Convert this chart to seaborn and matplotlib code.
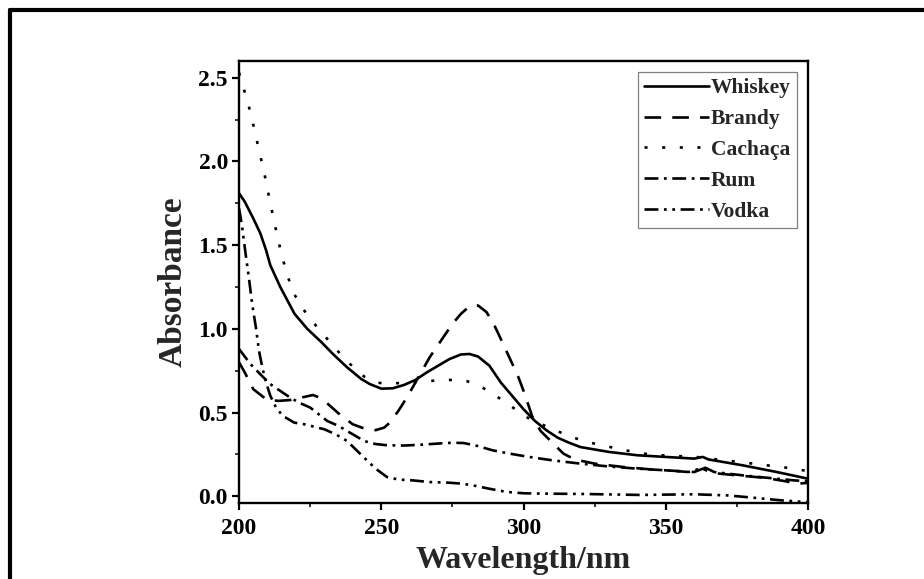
import pandas as pd
import matplotlib.pyplot as plt
import seaborn as sns
from matplotlib.lines import Line2D

# spectra (wavelength in nm, absorbance)
whiskey_wl = [200, 202, 205, 207.5, 209.5, 211, 214.5, 219.5, 224, 229, 233, 238, 243, 246, 250,
              254, 258, 262, 266, 270, 274, 278, 281, 284, 288, 292, 296, 300, 304, 308, 312, 316,
              320, 330, 340, 350, 360, 363, 365, 377, 389, 400]
whiskey_abs = [1.81, 1.76, 1.66, 1.57, 1.47, 1.38, 1.25, 1.09, 1.00, 0.92, 0.85, 0.77, 0.70, 0.67, 0.643,
               0.645, 0.665, 0.695, 0.74, 0.78, 0.82, 0.847, 0.85, 0.835, 0.78, 0.68, 0.60, 0.52, 0.45, 0.395, 0.35, 0.32,
               0.294, 0.265, 0.245, 0.235, 0.225, 0.235, 0.22, 0.185, 0.145, 0.105]

brandy_wl = [200, 202, 205, 208, 210, 214, 218, 222, 226, 229, 232, 236, 240, 244, 248, 251, 253,
             256, 259, 263, 267, 271, 275, 278, 281, 284, 287, 289.5, 292, 295, 298, 300, 303, 306,
             310.5, 314, 318, 325, 335, 345, 355, 360, 363, 366, 375, 385, 392, 396, 400]
brandy_abs = [0.80, 0.74, 0.64, 0.60, 0.575, 0.57, 0.575, 0.59, 0.605, 0.585, 0.54, 0.48, 0.43, 0.405, 0.395, 0.41, 0.44,
              0.51, 0.59, 0.71, 0.83, 0.93, 1.03, 1.09, 1.135, 1.14, 1.10, 1.03, 0.94, 0.83, 0.72, 0.63, 0.48, 0.39,
              0.314, 0.255, 0.22, 0.195, 0.175, 0.16, 0.15, 0.145, 0.165, 0.14, 0.125, 0.11, 0.09, 0.075, 0.08]

cachaca_wl = [200, 201, 203, 205, 207, 209, 211, 213, 215, 217, 219, 222, 226, 230, 234, 239, 244, 248,
              252, 258, 264, 270, 276, 280, 284, 289, 295, 301, 307, 314, 320, 326, 333, 339, 345, 352,
              357, 363, 370, 376, 383, 389, 395, 400]
cachaca_abs = [2.53, 2.47, 2.36, 2.22, 2.07, 1.92, 1.75, 1.59, 1.44, 1.32, 1.22, 1.13, 1.04, 0.96, 0.88, 0.79, 0.715, 0.68,
               0.672, 0.678, 0.685, 0.692, 0.696, 0.688, 0.665, 0.615, 0.545, 0.473, 0.425, 0.374, 0.336, 0.31, 0.285, 0.264, 0.248, 0.242,
               0.238, 0.232, 0.215, 0.205, 0.19, 0.178, 0.165, 0.15]

rum_wl = [200, 204, 208, 211, 214, 217.5, 221, 225, 228, 231, 235, 238, 241, 244, 248, 252, 258, 264,
          270, 275, 279, 284, 289, 295, 302, 310, 320, 330, 340, 350, 358, 362, 364, 367, 377, 386, 395, 400]
rum_abs = [0.88, 0.79, 0.72, 0.67, 0.635, 0.595, 0.56, 0.53, 0.49, 0.45, 0.42, 0.39, 0.36, 0.33, 0.312, 0.305, 0.303, 0.308,
           0.315, 0.32, 0.318, 0.30, 0.275, 0.255, 0.235, 0.215, 0.195, 0.178, 0.165, 0.155, 0.145, 0.165, 0.17, 0.145, 0.125, 0.11, 0.095, 0.09]

vodka_wl = [200, 201, 202.3, 203.5, 204.6, 206, 207, 208.3, 209.5, 211, 213, 215.4, 219.4, 223, 226.5, 230,
            234, 238, 241, 244, 248, 252, 256, 261, 267, 273, 278, 282, 288, 294, 300, 306, 320, 341, 360,
            372, 383, 391, 400]
vodka_abs = [1.72, 1.62, 1.45, 1.30, 1.15, 1.00, 0.87, 0.76, 0.68, 0.60, 0.53, 0.48, 0.44, 0.43, 0.415, 0.40,
             0.37, 0.33, 0.28, 0.23, 0.165, 0.115, 0.10, 0.095, 0.085, 0.082, 0.076, 0.066, 0.045, 0.026, 0.018, 0.016, 0.014, 0.008, 0.012,
             0.005, -0.012, -0.025, -0.035]

names = ['Whiskey', 'Brandy', 'Cachaça', 'Rum', 'Vodka']

frames = []
for name, x, y in zip(names,
                      [whiskey_wl, brandy_wl, cachaca_wl, rum_wl, vodka_wl],
                      [whiskey_abs, brandy_abs, cachaca_abs, rum_abs, vodka_abs]):
    frames.append(pd.DataFrame({'Wavelength': x, 'Absorbance': y, 'Sample': name}))
df = pd.concat(frames, ignore_index=True)

sns.set_style('ticks')
plt.rcParams['font.family'] = ['Liberation Serif', 'DejaVu Serif']
plt.rcParams['font.weight'] = 'bold'
plt.rcParams['axes.labelweight'] = 'bold'
plt.rcParams['lines.scale_dashes'] = False

dash_map = {'Whiskey': '', 'Brandy': (12, 8), 'Cachaça': (2.2, 10.5),
            'Rum': (10, 4, 2, 4), 'Vodka': (10, 4, 2, 4, 2, 4)}

fig = plt.figure(figsize=(9.24, 5.79), dpi=100)
ax = fig.add_axes([0.2587, 0.1313, 0.6158, 0.7633])

sns.lineplot(data=df, x='Wavelength', y='Absorbance', hue='Sample', style='Sample',
             hue_order=names, style_order=names, palette=['black'] * 5, dashes=dash_map,
             estimator=None, sort=False, linewidth=1.9, legend=False, ax=ax)

ax.set_xlim(200, 400)
ax.set_ylim(-0.04, 2.6)
ax.set_xticks([200, 250, 300, 350, 400])
ax.set_xticks([225, 275, 325, 375], minor=True)
ax.set_yticks([0.0, 0.5, 1.0, 1.5, 2.0, 2.5])
ax.set_yticks([0.25, 0.75, 1.25, 1.75, 2.25], minor=True)
ax.set_yticklabels(['0.0', '0.5', '1.0', '1.5', '2.0', '2.5'])
ax.tick_params(which='major', direction='out', length=5, width=1.6, labelsize=17, pad=3, colors='black')
ax.tick_params(axis='x', which='major', pad=6)
ax.tick_params(which='minor', direction='out', length=3, width=1.3)
for s in ax.spines.values():
    s.set_linewidth(1.7)
    s.set_color('black')
ax.set_xlabel('Wavelength/nm', fontsize=23, labelpad=5)
ax.set_ylabel('Absorbance', fontsize=24, labelpad=7)

leg = ax.legend(ax.get_lines()[:5], names, loc='upper right', fancybox=False, edgecolor='gray',
                framealpha=1, handlelength=3.0, handletextpad=0.1, labelspacing=0.5,
                borderpad=0.3, borderaxespad=0.5, prop={'weight': 'bold', 'size': 15.5})
leg.get_frame().set_linewidth(0.9)

# outer frame of the cropped figure (top and left edges only)
fig.add_artist(Line2D([10 / 924, 1.0], [1 - 10 / 579, 1 - 10 / 579], color='black', linewidth=3, transform=fig.transFigure))
fig.add_artist(Line2D([10 / 924, 10 / 924], [0.0, 1 - 10 / 579], color='black', linewidth=3, transform=fig.transFigure))

plt.savefig('out.png', dpi=100)
